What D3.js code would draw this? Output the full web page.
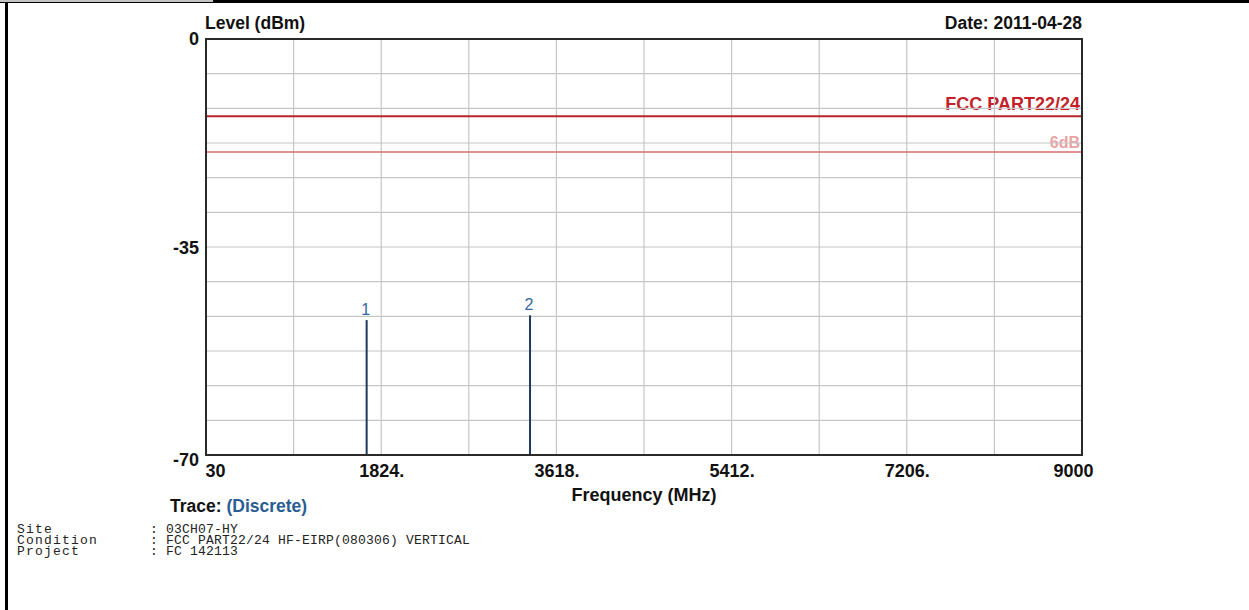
<!DOCTYPE html>
<html>
<head>
<meta charset="utf-8">
<script src="https://cdn.jsdelivr.net/npm/d3@7"></script>
<style>
  html, body { margin: 0; padding: 0; background: #fff; }
  svg { display: block; }
</style>
</head>
<body>
<svg id="chart" width="1249" height="610"></svg>
<script>
// ---- data ----
const xDomain = [30, 9000];
const yDomain = [-70, 0];
const xTickValues = [30, 1824, 3618, 5412, 7206, 9000];
const xTickLabels = ["30", "1824.", "3618.", "5412.", "7206.", "9000"];
const yTickValues = [0, -35, -70];
const yTickLabels = ["0", "-35", "-70"];
const markerIds = ["1", "2"];
const markerFreq = [1675, 3348];
const markerLevel = [-47.3, -46.5];
const limitNames = ["FCC PART22/24", "6dB"];
const limitLevels = [-13, -19];
const infoKeys = ["Site", "Condition", "Project"];
const infoValues = ["03CH07-HY", "FCC PART22/24 HF-EIRP(080306) VERTICAL", "FC 142113"];

const svg = d3.select("#chart");
const W = 1249, H = 610;
const L = 206, R = 1082, T = 39, B = 455;

// page frame
svg.append("rect").attr("x", 0).attr("y", 0).attr("width", W).attr("height", 3).attr("fill", "#000");
svg.append("rect").attr("x", 0).attr("y", 0).attr("width", 213).attr("height", 2).attr("fill", "#c4c4c4");
svg.append("rect").attr("x", 5).attr("y", 3).attr("width", 3).attr("height", H - 3).attr("fill", "#000");

const x = d3.scaleLinear().domain(xDomain).range([L, R]);
const y = d3.scaleLinear().domain(yDomain).range([B, T]);

const font = "'Liberation Sans', Arial, sans-serif";

// limit labels (drawn beneath grid)
const limitColors = ["#c3202a", "#e9a3a3"];
const limitLine = ["#b8242c", "#dc6b6b"];
const limitWidth = [2, 1.5];
limitLevels.forEach((v, i) => {
  svg.append("text").attr("x", R - 2).attr("y", y(v) - (i === 0 ? 6 : 4))
    .attr("text-anchor", "end").attr("font-family", font).attr("font-weight", "bold")
    .attr("font-size", i === 0 ? 18 : 16).attr("fill", limitColors[i]).text(limitNames[i]);
});

// grid
const xGrid = d3.range(11).map(i => xDomain[0] + (xDomain[1] - xDomain[0]) * i / 10);
const yGrid = d3.range(13).map(i => yDomain[0] + (yDomain[1] - yDomain[0]) * i / 12);
svg.append("g").selectAll("line").data(xGrid).join("line")
  .attr("x1", d => x(d)).attr("x2", d => x(d)).attr("y1", T).attr("y2", B)
  .attr("stroke", "#c6c6c6").attr("stroke-width", 1.2);
svg.append("g").selectAll("line").data(yGrid).join("line")
  .attr("x1", L).attr("x2", R).attr("y1", d => y(d)).attr("y2", d => y(d))
  .attr("stroke", "#c6c6c6").attr("stroke-width", 1.2);

// limit lines
limitLevels.forEach((v, i) => {
  svg.append("line").attr("x1", L).attr("x2", R).attr("y1", y(v)).attr("y2", y(v))
    .attr("stroke", limitLine[i]).attr("stroke-width", limitWidth[i]);
});

// markers
markerIds.forEach((id, i) => {
  svg.append("line").attr("x1", x(markerFreq[i])).attr("x2", x(markerFreq[i]))
    .attr("y1", y(markerLevel[i])).attr("y2", B)
    .attr("stroke", "#1d3a5c").attr("stroke-width", 2);
  svg.append("text").attr("x", x(markerFreq[i]) - 1).attr("y", y(markerLevel[i]) - 5)
    .attr("text-anchor", "middle").attr("font-family", font).attr("font-size", 16)
    .attr("fill", "#35679c").text(id);
});

// frame
svg.append("rect").attr("x", L).attr("y", T).attr("width", R - L).attr("height", B - T)
  .attr("fill", "none").attr("stroke", "#2a2a2a").attr("stroke-width", 2);

// x axis labels
const xAxis = d3.axisBottom(x).tickValues(xTickValues)
  .tickFormat((d, i) => xTickLabels[i]).tickSize(0).tickPadding(0);
const gx = svg.append("g").attr("transform", `translate(0,${B})`).call(xAxis);
gx.select(".domain").remove();
gx.selectAll("text").attr("font-family", font).attr("font-weight", "bold").attr("font-size", 18)
  .attr("fill", "#111").attr("dy", null).attr("y", 22)
  .attr("text-anchor", (d, i) => i === 0 ? "start" : (i === xTickValues.length - 1 ? "end" : "middle"))
  .attr("dx", (d, i) => i === 0 ? -1 : (i === xTickValues.length - 1 ? 11 : 0));

// y axis labels
const yAxis = d3.axisLeft(y).tickValues(yTickValues)
  .tickFormat((d, i) => yTickLabels[i]).tickSize(0).tickPadding(0);
const gy = svg.append("g").attr("transform", `translate(${L - 7},0)`).call(yAxis);
gy.select(".domain").remove();
gy.selectAll("text").attr("font-family", font).attr("font-weight", "bold").attr("font-size", 18)
  .attr("fill", "#111").attr("dy", (d) => d === -70 ? "0.6em" : (d === 0 ? "0.3em" : "0.38em"));

// titles
svg.append("text").attr("x", L - 1).attr("y", 29).attr("font-family", font).attr("font-weight", "bold")
  .attr("font-size", 17.5).attr("fill", "#111").text("Level (dBm)");
svg.append("text").attr("x", R).attr("y", 29).attr("text-anchor", "end").attr("font-family", font)
  .attr("font-weight", "bold").attr("font-size", 17.5).attr("fill", "#111").text("Date: 2011-04-28");
svg.append("text").attr("x", x((xDomain[0] + xDomain[1]) / 2)).attr("y", 501).attr("text-anchor", "middle")
  .attr("font-family", font).attr("font-weight", "bold").attr("font-size", 18).attr("fill", "#111")
  .text("Frequency (MHz)");

// trace
const tr = svg.append("text").attr("x", 170).attr("y", 512).attr("font-family", font)
  .attr("font-weight", "bold").attr("font-size", 17.5);
tr.append("tspan").attr("fill", "#111").text("Trace: ");
tr.append("tspan").attr("fill", "#2a5c94").text("(Discrete)");

// info lines
const mono = "'Liberation Mono', 'DejaVu Sans Mono', monospace";
infoKeys.forEach((k, i) => {
  const yy = 533 + i * 10.8;
  svg.append("text").attr("x", 17).attr("y", yy).attr("font-family", mono).attr("font-size", 13)
    .attr("letter-spacing", 1.2).attr("fill", "#222").text(k);
  svg.append("text").attr("x", 150).attr("y", yy).attr("font-family", mono).attr("font-size", 13)
    .attr("fill", "#222").text(":");
  svg.append("text").attr("x", 166).attr("y", yy).attr("font-family", mono).attr("font-size", 13)
    .attr("letter-spacing", 0.2).attr("fill", "#222").text(infoValues[i]);
});
</script>
</body>
</html>
